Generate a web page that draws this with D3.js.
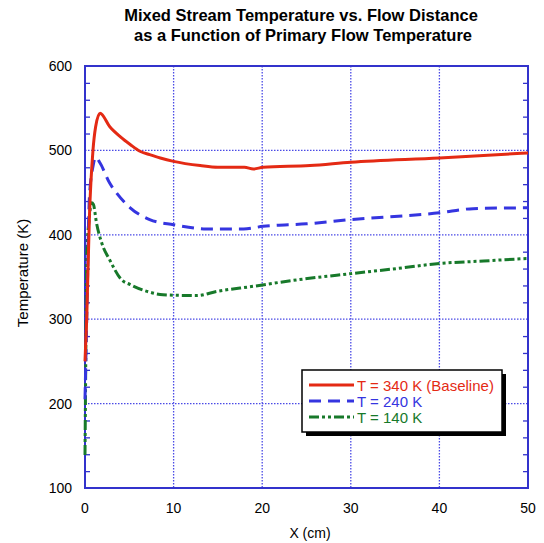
<!DOCTYPE html>
<html>
<head>
<meta charset="utf-8">
<script src="https://cdn.jsdelivr.net/npm/d3@7"></script>
<style>
body { margin: 0; background: #fff; }
text { font-family: "Liberation Sans", Arial, sans-serif; }
</style>
</head>
<body>
<div id="chart"></div>
<script>
// series: X (cm), T (K)
var xRed   = [0, 0.2, 0.5, 0.9, 1.2, 1.7, 2.8, 4.0, 5.1, 6.2, 7.3, 8.5, 10, 13, 15, 18, 19, 20.1, 25.4, 30, 40, 50];
var tRed   = [250, 303, 422, 500, 528, 544, 528, 516, 507, 499, 495, 491, 487, 482, 480, 480, 478, 480, 482, 486, 491, 497];
var xBlue  = [0, 0.2, 0.5, 0.9, 1.2, 1.7, 2.8, 3.6, 5.1, 7.3, 10, 13.7, 17.9, 20.1, 25, 30, 40, 43.8, 50];
var tBlue  = [205, 303, 445, 481, 492, 485, 461, 449, 432, 418, 412, 407, 407, 410, 413, 418, 426, 431, 432];
var xGreen = [0, 0.05, 0.2, 0.5, 0.75, 0.95, 1.3, 1.9, 2.8, 4.1, 5.1, 7, 8.8, 12.6, 14.9, 19, 23.5, 30, 35.2, 40, 45, 50];
var tGreen = [139, 204, 374, 422, 438, 436, 414, 390, 370, 347, 341, 333, 329, 328, 333, 339, 346, 354, 360, 366, 369, 372];

var seriesNames = ["T = 340 K (Baseline)", "T = 240 K", "T = 140 K"];
var seriesColors = ["#e42a14", "#3535e0", "#17792a"];
var seriesDash = [null, "12,7", "10,3,3,3,3,3"];

var xTicks = [0, 10, 20, 30, 40, 50];
var yTicks = [100, 200, 300, 400, 500, 600];

var W = 544, H = 543;
var pL = 85, pR = 528, pT = 66, pB = 488;

var svg = d3.select("#chart").append("svg")
	.attr("width", W)
	.attr("height", H);

var x = d3.scaleLinear().domain([0, 50]).range([pL, pR]);
var y = d3.scaleLinear().domain([100, 600]).range([pB, pT]);

var frame = "#3333cc";
var gridC = "#4a4ae6";

// grid
svg.append("g").selectAll("line")
	.data(xTicks.slice(1, -1))
	.enter().append("line")
		.attr("x1", d => x(d)).attr("x2", d => x(d))
		.attr("y1", pT).attr("y2", pB)
		.attr("stroke", gridC).attr("stroke-width", 1.3)
		.attr("stroke-dasharray", "1.5,1.5");
svg.append("g").selectAll("line")
	.data(yTicks.slice(1, -1))
	.enter().append("line")
		.attr("x1", pL).attr("x2", pR)
		.attr("y1", d => y(d)).attr("y2", d => y(d))
		.attr("stroke", gridC).attr("stroke-width", 1.3)
		.attr("stroke-dasharray", "1.5,1.5");

// minor ticks on the y axes, pointing in
var minor = d3.range(120, 600, 20).filter(v => v % 100 !== 0);
var yAxisL = d3.axisLeft(y).tickValues(minor).tickSize(-5).tickFormat("");
var yAxisR = d3.axisRight(y).tickValues(minor).tickSize(-5).tickFormat("");
svg.append("g").attr("transform", "translate(" + pL + ",0)").call(yAxisL);
svg.append("g").attr("transform", "translate(" + pR + ",0)").call(yAxisR);
svg.selectAll(".tick line").attr("stroke", frame).attr("stroke-width", 1.3);
svg.selectAll(".domain").remove();

// frame
svg.append("rect")
	.attr("x", pL).attr("y", pT)
	.attr("width", pR - pL).attr("height", pB - pT)
	.attr("fill", "none").attr("stroke", frame).attr("stroke-width", 2);

// tick labels
svg.append("g").selectAll("text")
	.data(yTicks)
	.enter().append("text")
		.attr("x", pL - 13).attr("y", d => y(d) + 5)
		.attr("text-anchor", "end")
		.attr("font-size", "14px")
		.text(d => d);
svg.append("g").selectAll("text")
	.data(xTicks)
	.enter().append("text")
		.attr("x", d => x(d)).attr("y", pB + 25)
		.attr("text-anchor", "middle")
		.attr("font-size", "14px")
		.text(d => d);

// curves
var data = [
	d3.zip(xRed, tRed),
	d3.zip(xBlue, tBlue),
	d3.zip(xGreen, tGreen)
];
var line = d3.line()
	.x(d => x(d[0]))
	.y(d => y(d[1]))
	.curve(d3.curveMonotoneX);

// draw green first so red sits on top
for (var i = data.length - 1; i >= 0; i--) {
	svg.append("path")
		.attr("d", line(data[i]))
		.attr("fill", "none")
		.attr("stroke", seriesColors[i])
		.attr("stroke-width", 3)
		.attr("stroke-dasharray", seriesDash[i]);
}

// legend
var lx = 302, ly = 370, lw = 200, lh = 62;
svg.append("rect")
	.attr("x", lx + 4).attr("y", ly + 4)
	.attr("width", lw).attr("height", lh)
	.attr("fill", "#000");
svg.append("rect")
	.attr("x", lx).attr("y", ly)
	.attr("width", lw).attr("height", lh)
	.attr("fill", "#fff").attr("stroke", "#000").attr("stroke-width", 1.5);

for (var j = 0; j < seriesNames.length; j++) {
	var ry = ly + 15 + j * 16;
	svg.append("line")
		.attr("x1", lx + 7).attr("x2", lx + 52)
		.attr("y1", ry).attr("y2", ry)
		.attr("stroke", seriesColors[j])
		.attr("stroke-width", 3)
		.attr("stroke-dasharray", seriesDash[j]);
	svg.append("text")
		.attr("x", lx + 55).attr("y", ry + 5.5)
		.attr("font-size", "15px")
		.attr("fill", seriesColors[j])
		.text(seriesNames[j]);
}

// titles
svg.append("text")
	.attr("x", 301).attr("y", 21)
	.attr("text-anchor", "middle")
	.attr("font-size", "16.5px").attr("font-weight", "bold")
	.text("Mixed Stream Temperature vs. Flow Distance");
svg.append("text")
	.attr("x", 303).attr("y", 41)
	.attr("text-anchor", "middle")
	.attr("font-size", "16.5px").attr("font-weight", "bold")
	.text("as a Function of Primary Flow Temperature");

svg.append("text")
	.attr("x", 310).attr("y", 538)
	.attr("text-anchor", "middle")
	.attr("font-size", "14px")
	.text("X (cm)");
svg.append("text")
	.attr("transform", "translate(28,273) rotate(-90)")
	.attr("text-anchor", "middle")
	.attr("font-size", "15px")
	.text("Temperature (K)");
</script>
</body>
</html>
